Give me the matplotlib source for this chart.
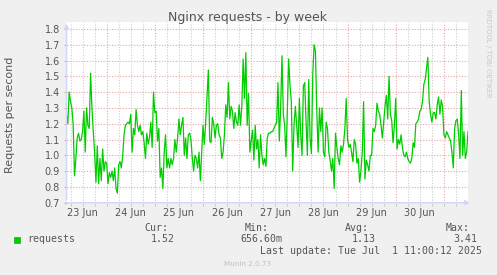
import matplotlib
matplotlib.use("Agg")
import matplotlib.pyplot as plt
import matplotlib.transforms as mtransforms
from matplotlib.patches import Rectangle
from datetime import datetime, timedelta

# munin week graph: 40 minute samples from Jun 23 04:00 to Jul 1 12:00
start = datetime(2025, 6, 23, 4, 0)
step_minutes = 40
requests = [
    1.26, 1.20, 1.40, 1.34, 1.30, 1.19, 0.87, 0.98, 1.11, 1.14,
    1.09, 1.10, 1.15, 1.28, 1.02, 1.30, 1.19, 1.17, 1.52, 1.30,
    1.15, 1.02, 0.83, 1.06, 0.82, 0.98, 0.84, 1.04, 0.90, 0.96,
    0.95, 0.82, 0.89, 0.86, 0.90, 0.84, 0.92, 0.79, 0.76, 0.94,
    0.96, 0.92, 1.00, 1.13, 1.19, 1.20, 1.21, 1.20, 1.26, 1.02,
    1.17, 1.13, 1.29, 1.19, 1.15, 1.19, 1.13, 1.15, 1.08, 0.98,
    1.14, 1.07, 1.11, 1.21, 1.05, 1.40, 1.27, 1.28, 1.09, 1.17,
    0.86, 0.92, 0.79, 1.02, 1.13, 0.92, 0.98, 0.92, 0.98, 0.94,
    0.98, 1.10, 1.02, 1.11, 1.23, 1.13, 1.19, 1.24, 1.00, 1.11,
    0.98, 1.13, 1.14, 1.10, 0.98, 0.90, 1.00, 0.98, 0.92, 1.02,
    0.84, 1.02, 1.19, 1.07, 1.21, 1.38, 1.54, 1.09, 1.08, 1.24,
    1.20, 1.11, 1.19, 1.20, 1.13, 1.11, 0.98, 1.02, 1.13, 1.32,
    1.24, 1.46, 1.23, 1.31, 1.28, 1.17, 1.27, 1.21, 1.19, 1.32,
    1.19, 1.31, 1.61, 1.36, 1.65, 1.19, 1.39, 1.02, 1.09, 1.16,
    0.97, 1.19, 1.04, 1.10, 0.92, 1.13, 1.00, 0.94, 0.98, 0.93,
    1.11, 1.14, 1.14, 1.15, 1.15, 1.17, 1.19, 1.21, 1.46, 1.09,
    1.30, 1.63, 1.26, 1.19, 0.99, 1.28, 1.61, 1.44, 1.34, 0.90,
    1.19, 1.31, 1.19, 1.05, 1.36, 1.13, 1.00, 1.44, 1.46, 1.21,
    1.00, 1.48, 1.11, 1.01, 1.51, 1.70, 1.66, 1.28, 1.02, 1.30,
    1.15, 1.30, 1.02, 0.99, 1.21, 1.17, 1.02, 0.97, 0.90, 0.98,
    0.79, 1.14, 1.05, 0.98, 0.94, 1.06, 1.02, 1.07, 1.17, 1.36,
    1.10, 1.05, 1.07, 1.02, 0.96, 1.10, 1.07, 0.95, 0.98, 0.83,
    0.90, 1.02, 1.34, 0.85, 0.97, 0.94, 0.90, 1.00, 1.00, 1.17,
    1.15, 1.19, 1.33, 1.28, 1.26, 1.19, 1.11, 1.21, 1.31, 1.38,
    1.23, 1.50, 1.26, 1.22, 1.08, 1.19, 1.36, 1.04, 1.10, 1.07,
    1.13, 1.05, 1.00, 0.99, 1.02, 0.98, 0.96, 0.95, 0.98, 1.08,
    1.05, 1.20, 1.21, 1.23, 1.28, 1.29, 1.34, 1.45, 1.48, 1.55,
    1.62, 1.34, 1.26, 1.21, 1.27, 1.27, 1.23, 1.32, 1.37, 1.26,
    1.35, 1.31, 1.13, 1.11, 1.15, 1.13, 1.11, 1.09, 1.02, 0.92,
    1.17, 1.22, 1.23, 1.13, 0.98, 1.41, 1.00, 1.15, 0.98, 1.02,
    1.15,
]
times = [start + timedelta(minutes=step_minutes * i) for i in range(len(requests))]

day_labels = ["23 Jun", "24 Jun", "25 Jun", "26 Jun", "27 Jun", "28 Jun", "29 Jun", "30 Jun"]
y_ticks = [0.7, 0.8, 0.9, 1.0, 1.1, 1.2, 1.3, 1.4, 1.5, 1.6, 1.7, 1.8]
stat_names = ["Cur:", "Min:", "Avg:", "Max:"]
stat_values = ["1.52", "656.60m", "1.13", "3.41"]

W, H = 497, 275
font_col = "#555555"
axis_col = "#cfd6f8"
mgrid_col = "#eda5a5"
grid_col = "#cccccc"

fig = plt.figure(figsize=(W / 100, H / 100), dpi=100, facecolor="#f0f0f0")

# plot area in pixels
x0, x1 = 66.5, 468.0
y_bot, y_top = 202.7, 21.7
ax = fig.add_axes([x0 / W, 1 - y_bot / H, (x1 - x0) / W, (y_bot - y_top) / H])
ax.set_facecolor("white")
end = times[0] + timedelta(hours=200)
ax.set_xlim(times[0], end)
ax.set_ylim(0.7, 1.8 + (28.3 - y_top) / 158.4 * 1.1)
for s in ax.spines.values():
    s.set_visible(False)

# grid
t = datetime(2025, 6, 23, 6, 0)
minor_times = []
while t < end:
    if t.hour == 0:
        ax.axvline(t, color=mgrid_col, lw=0.8, ls=(0, (1, 1.5)), zorder=1)
    else:
        ax.axvline(t, color=grid_col, lw=0.8, ls=(0, (1, 1.5)), zorder=1)
    minor_times.append(t)
    t += timedelta(hours=6)
for v in y_ticks:
    ax.axhline(v, color=mgrid_col, lw=0.8, ls=(0, (1, 1.5)), zorder=1)

ax.plot(times, requests, color="#00cc00", lw=0.9, zorder=3)

ax.set_yticks(y_ticks)
ax.set_yticklabels([f"{v:.1f}" for v in y_ticks], fontsize=7, color=font_col)
ax.tick_params(axis="y", length=2.2, color=mgrid_col, pad=2.5)
ax.set_xticks(minor_times)
ax.set_xticklabels([])
ax.tick_params(axis="x", length=2, color=grid_col)

# day labels at noon
trans = mtransforms.blended_transform_factory(ax.transData, fig.transFigure)
for i, lab in enumerate(day_labels):
    noon = datetime(2025, 6, 23 + i, 12, 0)
    ax.text(noon, 1 - 213.5 / H, lab, transform=trans, ha="center", va="center",
            fontsize=7, color=font_col)

# axes with arrows
ax.annotate("", xy=(0, 1.004), xytext=(0, 0), xycoords="axes fraction",
            arrowprops=dict(arrowstyle="-|>", color=axis_col, lw=1, mutation_scale=7),
            annotation_clip=False)
ax.annotate("", xy=(1.012, 0), xytext=(-0.01, 0), xycoords="axes fraction",
            arrowprops=dict(arrowstyle="-|>", color=axis_col, lw=1, mutation_scale=7),
            annotation_clip=False)

# texts
fig.text(248 / W, 1 - 17 / H, "Nginx requests - by week", ha="center", va="center",
         fontsize=9, color=font_col)
fig.text(10.5 / W, 1 - 115 / H, "Requests per second", rotation=90, ha="center",
         va="center", fontsize=8, color=font_col)
fig.text(488 / W, 1 - 53 / H, "RRDTOOL / TOBI OETIKER", rotation=270, ha="center",
         va="center", fontsize=5, color="#c8c8c8")

mono = "DejaVu Sans Mono"
fig.add_artist(Rectangle((14 / W, 1 - 242.7 / H), 5.5 / W, 5.5 / H,
                         transform=fig.transFigure, facecolor="#00cc00",
                         edgecolor="#00aa00", lw=0.4))
fig.text(27 / W, 1 - 239.5 / H, "requests", ha="left", va="center",
         fontsize=7.1, family=mono, color=font_col)
name_right = [168, 269, 369, 470]
value_right = [174.5, 282, 376, 477]
for name, val, nr, vr in zip(stat_names, stat_values, name_right, value_right):
    fig.text(nr / W, 1 - 227.7 / H, name, ha="right", va="center",
             fontsize=7.1, family=mono, color=font_col)
    fig.text(vr / W, 1 - 239.5 / H, val, ha="right", va="center",
             fontsize=7.1, family=mono, color=font_col)
fig.text(482 / W, 1 - 251 / H, "Last update: Tue Jul  1 11:00:12 2025", ha="right",
         va="center", fontsize=7.1, family=mono, color=font_col)
fig.text(248 / W, 1 - 264 / H, "Munin 2.0.73", ha="center", va="center",
         fontsize=5.2, color="#c0c0c0")

fig.savefig("out.png", dpi=100, facecolor=fig.get_facecolor())
